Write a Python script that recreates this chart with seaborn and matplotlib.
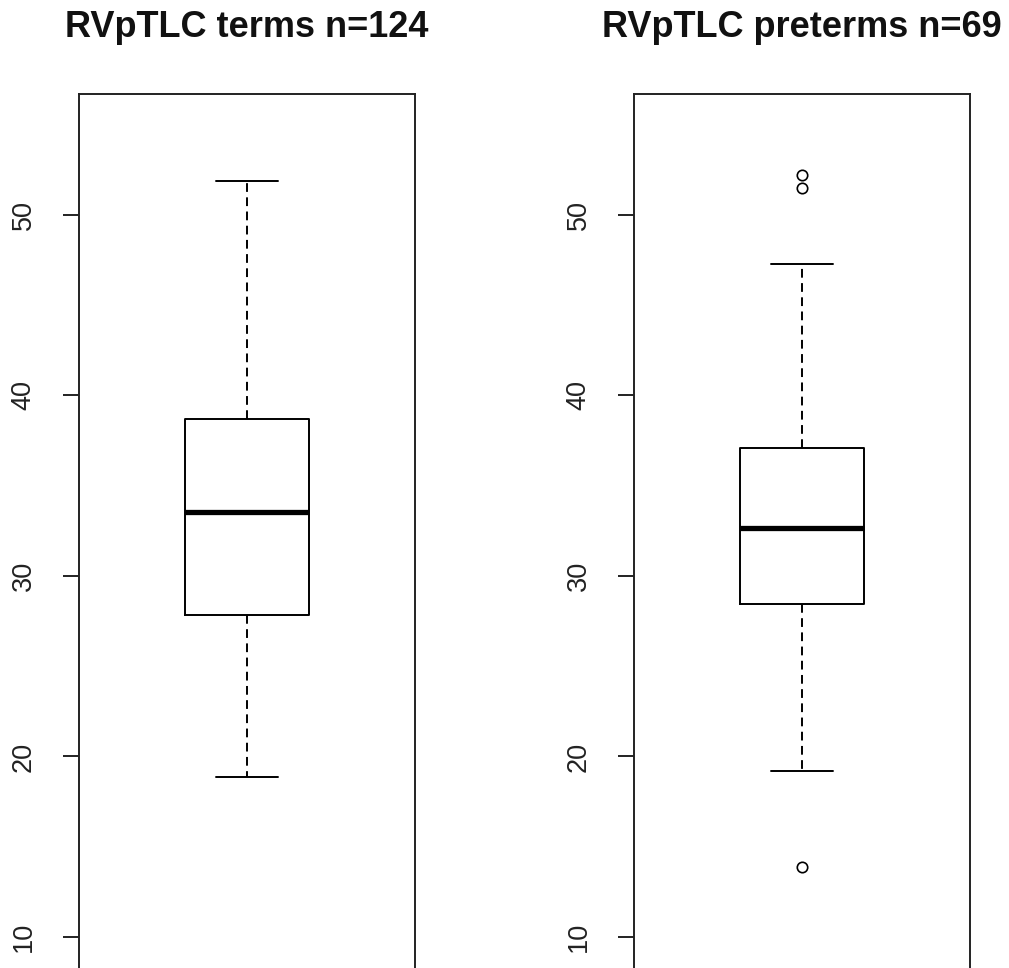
import numpy as np
import pandas as pd
import matplotlib
matplotlib.use("Agg")
import matplotlib.pyplot as plt
import seaborn as sns

# ---- data (five-number summaries + outliers) ----
titles = ["RVpTLC terms n=124", "RVpTLC preterms n=69"]
whisker_low = [18.86, 19.20]
q1 = [27.84, 28.45]
median = [33.55, 32.66]
q3 = [38.70, 37.09]
whisker_high = [51.88, 47.29]
outliers = [[], [13.88, 51.50, 52.22]]
yticks = [10, 20, 30, 40, 50]

# Build a sample per group whose Tukey summary equals the values above
def sample(i, k=50):
    vals = ([whisker_low[i]] + [q1[i]] * k + [median[i]] * k + [q3[i]] * k
            + [whisker_high[i]] + list(outliers[i]))
    return pd.DataFrame({"value": vals})

sns.set_style("white")
plt.rcParams["font.family"] = ["Liberation Sans", "DejaVu Sans"]

fig = plt.figure(figsize=(10.09, 9.68), dpi=100)
lefts = [79 / 1009, 634 / 1009]
width = 336 / 1009
height = 874 / 968

for i in range(2):
    ax = fig.add_axes([lefts[i], 0.0, width, height])
    sns.boxplot(
        data=sample(i), y="value", ax=ax, width=0.4, fill=False,
        color="black", linecolor="black", linewidth=1.4, whis=1.5,
        medianprops={"linewidth": 3.8, "color": "black"},
        whiskerprops={"linestyle": (0, (4.5, 2.8)), "linewidth": 1.4},
        capprops={"linewidth": 1.4},
        flierprops={"marker": "o", "markersize": 7.5, "markerfacecolor": "none",
                    "markeredgecolor": "black", "markeredgewidth": 1.2},
    )
    ax.set_xlim(-0.54, 0.54)
    ax.set_ylim(8.28, 56.70)
    ax.set_yticks(yticks)
    ax.set_yticklabels([str(t) for t in yticks], rotation=90, va="center",
                       fontsize=19.5, color="#222222")
    ax.set_xticks([])
    ax.set_xlabel("")
    ax.set_ylabel("")
    ax.tick_params(axis="y", left=True, length=11.5, width=1.4, pad=19,
                   color="#222222", direction="out")
    for name, sp in ax.spines.items():
        sp.set_color("#222222")
        sp.set_linewidth(1.4)
    ax.spines["bottom"].set_visible(False)
    ax.set_title(titles[i], fontsize=26, fontweight="bold", pad=41,
                 color="#111111")

fig.savefig("out.png", dpi=100, facecolor="white")
